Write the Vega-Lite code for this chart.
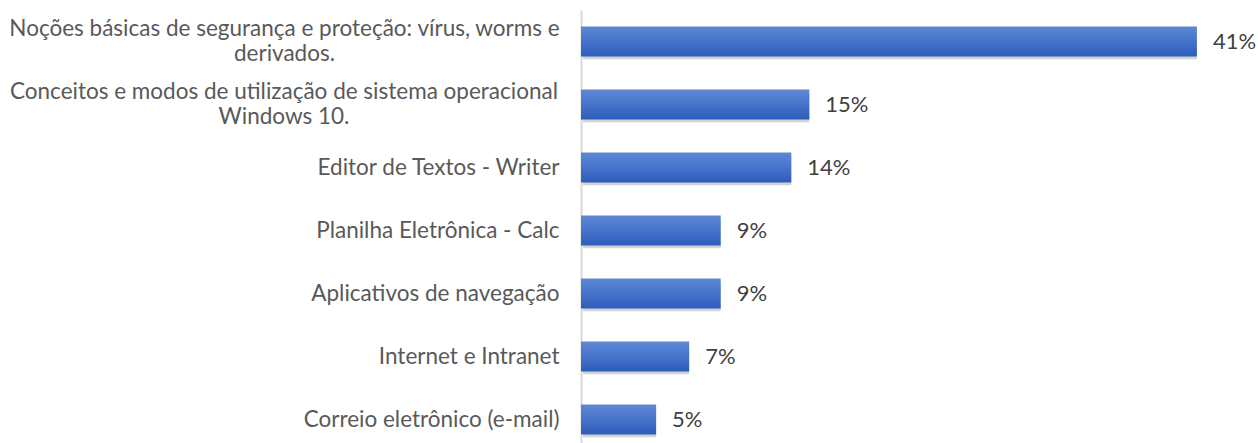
{
  "$schema": "https://vega.github.io/schema/vega-lite/v6.json",
  "width": 676,
  "height": 441,
  "autosize": {"type": "none"},
  "padding": {"left": 581, "top": 10, "right": 0, "bottom": 0},
  "background": "white",
  "config": {"view": {"stroke": null}, "font": "Lato"},
  "data": {
    "values": [
      {"cat": "Noções básicas de segurança e proteção: vírus, worms e derivados.", "value": 0.41},
      {"cat": "Conceitos e modos de utilização de sistema operacional Windows 10.", "value": 0.152},
      {"cat": "Editor de Textos - Writer", "value": 0.14},
      {"cat": "Planilha Eletrônica -  Calc", "value": 0.093},
      {"cat": "Aplicativos de navegação", "value": 0.093},
      {"cat": "Internet e Intranet", "value": 0.072},
      {"cat": "Correio eletrônico (e-mail)", "value": 0.05}
    ]
  },
  "encoding": {
    "y": {
      "field": "cat",
      "type": "nominal",
      "sort": null,
      "scale": {"paddingInner": 0.52, "paddingOuter": 0.26},
      "axis": {
        "title": null,
        "ticks": false,
        "domain": true,
        "domainColor": "#d9d9d9",
        "domainWidth": 2,
        "labelFont": "Lato",
        "labelFontSize": 22.5,
        "labelColor": "#595959",
        "labelLimit": 1000,
        "labelLineHeight": 25,
        "labelExpr": "split(replace(replace(datum.label, 'worms e derivados.', 'worms e|derivados.'), 'operacional Windows', 'operacional|Windows'), '|')",
        "labelOffset": {
          "condition": {"test": "indexof(datum.value, 'derivados') >= 0 || indexof(datum.value, 'Windows') >= 0", "value": -13},
          "value": 0
        },
        "labelAlign": {
          "condition": {"test": "indexof(datum.value, 'derivados') >= 0 || indexof(datum.value, 'Windows') >= 0", "value": "center"},
          "value": "right"
        },
        "labelPadding": {
          "condition": [
            {"test": "indexof(datum.value, 'derivados') >= 0", "value": 297},
            {"test": "indexof(datum.value, 'Windows') >= 0", "value": 297.5}
          ],
          "value": 22
        }
      }
    },
    "x": {
      "field": "value",
      "type": "quantitative",
      "scale": {"domain": [0, 0.45], "nice": false},
      "axis": null
    }
  },
  "layer": [
    {
      "mark": {"type": "bar", "color": "#7f7f7f", "opacity": 0.35, "yOffset": 3, "xOffset": 2, "cornerRadius": 1}
    },
    {
      "mark": {
        "type": "bar",
        "color": {
          "gradient": "linear",
          "x1": 0, "y1": 0, "x2": 0, "y2": 1,
          "stops": [
            {"offset": 0, "color": "#6088d4"},
            {"offset": 0.5, "color": "#4673cb"},
            {"offset": 1, "color": "#2c5dbb"}
          ]
        }
      }
    },
    {
      "mark": {"type": "text", "align": "left", "baseline": "middle", "dx": 16, "fontSize": 22, "font": "Lato", "color": "#404040"},
      "encoding": {"text": {"field": "value", "type": "quantitative", "format": ".0%"}}
    }
  ]
}
